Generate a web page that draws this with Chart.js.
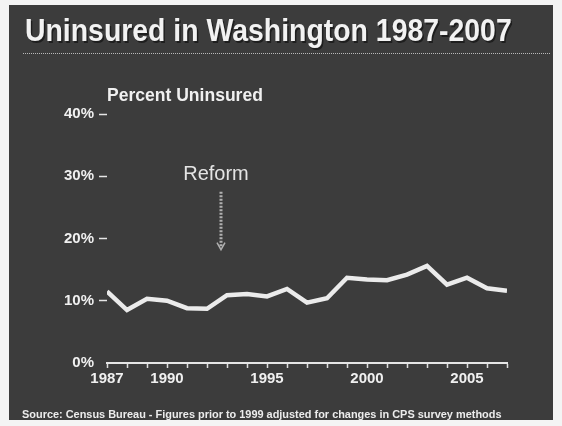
<!DOCTYPE html>
<html>
<head>
<meta charset="utf-8">
<script src="https://cdn.jsdelivr.net/npm/chart.js@4.4.0/dist/chart.umd.min.js"></script>
<style>
html,body{margin:0;padding:0;background:#f4f4f4;}
#wrap{width:562px;height:426px;position:relative;}
</style>
</head>
<body>
<div id="wrap"><canvas id="c" width="562" height="426"></canvas></div>
<script>
// ---- data ----
const years = [1987,1988,1989,1990,1991,1992,1993,1994,1995,1996,1997,1998,1999,2000,2001,2002,2003,2004,2005,2006,2007];
const uninsuredPct = [11.5,8.5,10.3,10.0,8.8,8.7,10.9,11.1,10.7,11.9,9.7,10.4,13.7,13.4,13.3,14.2,15.6,12.6,13.7,12.0,11.6];
const xTickLabels = [1987,1990,1995,2000,2005];
const yTickValues = [0,10,20,30,40];
const titleText = "Uninsured in Washington 1987-2007";
const yAxisTitle = "Percent Uninsured";
const sourceText = "Source: Census Bureau - Figures prior to 1999 adjusted for changes in CPS survey methods";
const reformLabel = "Reform";
const reformX = 1992.7;       // arrow position (year)
const reformArrowTop = 27.5;  // percent
const reformArrowBottom = 18.2;

const FONT = "'Liberation Sans', Arial, Helvetica, sans-serif";

function fitFont(ctx, text, weight, targetW, base) {
  ctx.font = weight + " " + base + "px " + FONT;
  const w = ctx.measureText(text).width;
  return base * targetW / w;
}

const decor = {
  id: 'decor',
  beforeDraw(chart) {
    const ctx = chart.ctx;
    ctx.save();
    ctx.fillStyle = '#f4f4f4';
    ctx.fillRect(0, 0, chart.width, chart.height);
    ctx.fillStyle = '#3c3c3c';
    ctx.fillRect(9, 5, 544, 415);
    ctx.restore();
  },
  afterDraw(chart) {
    const ctx = chart.ctx;
    const xs = chart.scales.x, ys = chart.scales.y;
    ctx.save();
    // title
    let fs = fitFont(ctx, titleText, 'bold', 487, 28);
    ctx.font = "bold " + fs + "px " + FONT;
    ctx.textAlign = 'left';
    ctx.textBaseline = 'alphabetic';
    ctx.fillStyle = '#1e1e1e';
    ctx.save();
    ctx.translate(25, 41);
    ctx.scale(1, 1.12);
    ctx.fillText(titleText, 1.5, 1.5);
    ctx.fillStyle = '#f2f2f2';
    ctx.fillText(titleText, 0, 0);
    ctx.restore();
    // dotted rule
    ctx.strokeStyle = '#b8b8b8';
    ctx.lineWidth = 1;
    ctx.setLineDash([1, 1]);
    ctx.beginPath();
    ctx.moveTo(23, 53.5);
    ctx.lineTo(550, 53.5);
    ctx.stroke();
    ctx.setLineDash([]);
    // axis title
    fs = fitFont(ctx, yAxisTitle, 'bold', 156, 17);
    ctx.font = "bold " + fs + "px " + FONT;
    ctx.fillStyle = '#f0f0f0';
    ctx.fillText(yAxisTitle, 107, 101);
    // source
    fs = fitFont(ctx, sourceText, 'bold', 480, 10);
    ctx.font = "bold " + fs + "px " + FONT;
    ctx.fillStyle = '#ececec';
    ctx.fillText(sourceText, 22, 418);
    // reform annotation
    const ax = xs.getPixelForValue(reformX);
    const ay1 = ys.getPixelForValue(reformArrowTop);
    const ay2 = ys.getPixelForValue(reformArrowBottom);
    ctx.font = "20px " + FONT;
    ctx.fillStyle = '#e4e4e4';
    ctx.textAlign = 'center';
    ctx.fillText(reformLabel, ax - 5, 180);
    ctx.strokeStyle = '#b0b0b0';
    ctx.lineWidth = 3;
    ctx.setLineDash([2, 1.5]);
    ctx.beginPath();
    ctx.moveTo(ax, ay1);
    ctx.lineTo(ax, ay2 - 2);
    ctx.stroke();
    ctx.setLineDash([]);
    ctx.lineWidth = 1.5;
    ctx.beginPath();
    ctx.moveTo(ax - 4, ay2 - 7);
    ctx.lineTo(ax, ay2);
    ctx.lineTo(ax + 4, ay2 - 7);
    ctx.stroke();
    ctx.restore();
  }
};

new Chart(document.getElementById('c'), {
  type: 'line',
  data: {
    datasets: [{
      data: years.map((y, i) => ({x: y, y: uninsuredPct[i]})),
      borderColor: '#ebebeb',
      borderWidth: 4.5,
      pointRadius: 0,
      tension: 0,
      borderJoinStyle: 'miter'
    }]
  },
  options: {
    responsive: false,
    animation: false,
    devicePixelRatio: 1,
    layout: { padding: { left: 47, right: 55, top: 114, bottom: 23 } },
    plugins: { legend: { display: false }, tooltip: { enabled: false }, title: { display: false } },
    scales: {
      x: {
        type: 'linear',
        min: 1987,
        max: 2007,
        afterFit(s) { s.height = 40; },
        afterBuildTicks(s) { s.ticks = years.map(v => ({value: v})); },
        border: { display: true, color: '#e6e6e6', width: 2 },
        grid: { display: true, drawOnChartArea: false, drawTicks: true, tickLength: 5, color: '#dcdcdc', tickWidth: 1.5 },
        ticks: {
          autoSkip: false,
          maxRotation: 0,
          padding: 2,
          color: '#f0f0f0',
          font: { family: FONT, size: 15, weight: 'bold' },
          callback: v => xTickLabels.includes(v) ? String(v) : ''
        }
      },
      y: {
        min: 0,
        max: 40,
        afterFit(s) { s.width = 60; },
        afterBuildTicks(s) { s.ticks = yTickValues.map(v => ({value: v})); },
        border: { display: false },
        grid: {
          display: true, drawOnChartArea: false, drawTicks: true, tickLength: 8, tickWidth: 1.5,
          tickColor: c => (c.tick && c.tick.value === 0) ? 'rgba(0,0,0,0)' : '#e6e6e6'
        },
        ticks: {
          padding: 5,
          color: '#f0f0f0',
          font: { family: FONT, size: 15, weight: 'bold' },
          callback: v => v + '%'
        }
      }
    }
  },
  plugins: [decor]
});
</script>
</body>
</html>
